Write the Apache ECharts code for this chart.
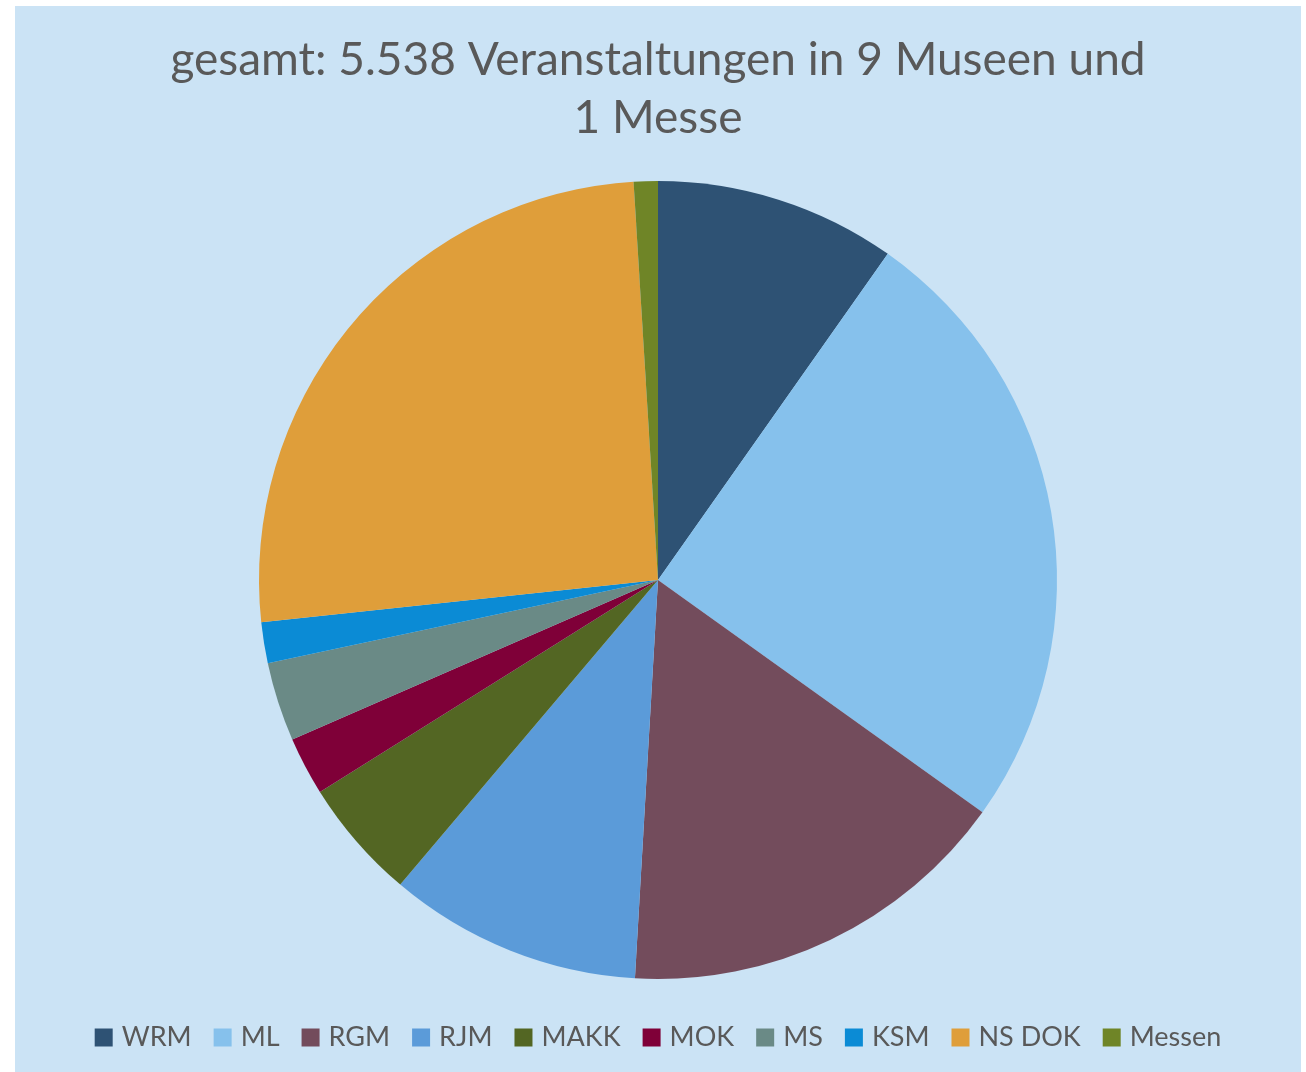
<!DOCTYPE html>
<html>
<head>
<meta charset="utf-8">
<script src="https://cdn.jsdelivr.net/npm/echarts@6/dist/echarts.min.js"></script>
<style>
  html, body { margin: 0; padding: 0; background: #ffffff; }
  #chart { position: absolute; left: 15px; top: 6px; width: 1286px; height: 1066px; background: #cbe3f5; }
</style>
</head>
<body>
<div id="chart"></div>
<script>
// Veranstaltungen je Haus (aus dem Bild geschätzt)
var categories = ['WRM', 'ML', 'RGM', 'RJM', 'MAKK', 'MOK', 'MS', 'KSM', 'NS DOK', 'Messen'];
var values = [541, 1391, 888, 568, 272, 131, 177, 92, 1424, 54];
var colors = ['#2e5274', '#86c1ec', '#734c5c', '#5b9bd9', '#536623', '#7f0038', '#6a8a86', '#0b8bd5', '#df9e3a', '#6f8527'];
var titleText = 'gesamt: 5.538 Veranstaltungen in 9 Museen und\n1 Messe';

var chart = echarts.init(document.getElementById('chart'));
var data = categories.map(function(c, i) {
    return { name: c, value: values[i], itemStyle: { color: colors[i] } };
});
chart.setOption({
    backgroundColor: '#cbe3f5',
    animation: false,
    title: {
        text: titleText,
        left: 'center',
        top: 20,
        textStyle: {
            fontFamily: 'Lato',
            fontSize: 46,
            fontWeight: 'normal',
            color: '#595959',
            lineHeight: 58
        }
    },
    legend: {
        top: 1013,
        left: 'center',
        icon: 'rect',
        itemWidth: 18,
        itemHeight: 18,
        itemGap: 22,
        textStyle: { fontFamily: 'Lato', fontSize: 27, color: '#595959', padding: [0, 0, 0, 4] },
        data: categories
    },
    series: [{
        type: 'pie',
        center: [643, 574],
        radius: 399,
        startAngle: 90,
        clockwise: true,
        label: { show: false },
        labelLine: { show: false },
        itemStyle: { borderWidth: 0 },
        data: data
    }]
});
</script>
</body>
</html>
